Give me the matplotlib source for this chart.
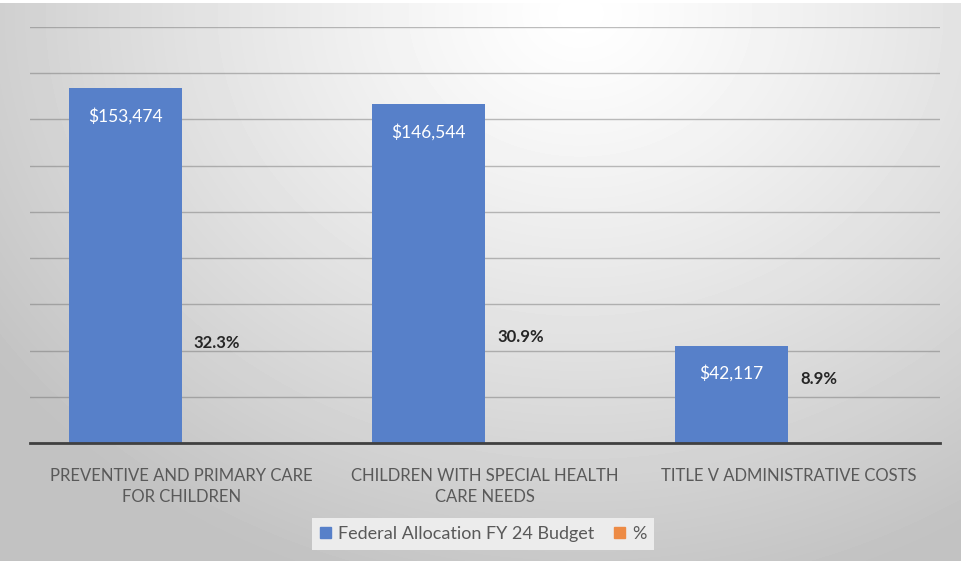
import numpy as np
import matplotlib.pyplot as plt
from matplotlib.patches import Patch

plt.rcParams['font.family'] = ['Lato', 'DejaVu Sans']

categories = ['PREVENTIVE AND PRIMARY CARE\nFOR CHILDREN',
              'CHILDREN WITH SPECIAL HEALTH\nCARE NEEDS',
              'TITLE V ADMINISTRATIVE COSTS']
budget = [153474, 146544, 42117]
pct = [32.3, 30.9, 8.9]
# heights where the % labels sit on the value axis
pct_label_y = [43300, 45900, 27700]

blue = '#5780c9'
orange = '#ed8b45'
grey_text = '#595959'

fig = plt.figure(figsize=(9.61, 5.61), dpi=100)

# radial grey background, lightest near the top middle
bg = fig.add_axes([0, 0, 1, 1 - 3 / 561], zorder=-1)
h, w = 558, 961
yy, xx = np.mgrid[0:h, 0:w]
r = np.sqrt(((xx - 580) / 720.0) ** 2 + ((yy - 10) / 600.0) ** 2)
shade = 1.0 - 0.24 * np.clip(r, 0, 1) ** 1.2
bg.imshow(shade, cmap='gray', vmin=0, vmax=1, aspect='auto',
          extent=[0, 1, 0, 1], interpolation='bilinear')
bg.axis('off')

ax = fig.add_axes([30 / 961, 118 / 561, 910 / 961, 416 / 561])
ax.patch.set_alpha(0)

x = np.arange(len(categories))
width = 0.373
bars = ax.bar(x - width / 2, budget, width, color=blue, zorder=3)
ax.bar(x + width / 2, pct, width, color=orange, zorder=3)

for b, v in zip(bars, budget):
    ax.annotate('${:,}'.format(v), (b.get_x() + b.get_width() / 2, v),
                xytext=(0, -28), textcoords='offset pixels',
                ha='center', va='center', color='white', fontsize=12.5)

for xi, p, yl in zip(x, pct, pct_label_y):
    ax.text(xi + 0.04, yl, '{:.1f}%'.format(p), ha='left', va='center',
            color='#262626', fontsize=12, fontweight='bold', zorder=4)

ax.set_xlim(-0.5, 2.5)
ax.set_ylim(0, 180000)
ax.set_yticks(range(0, 180001, 20000))
ax.yaxis.grid(True, color='#6e6e6e', alpha=0.45, linewidth=1, zorder=0)
ax.tick_params(axis='y', left=False, labelleft=False)
ax.tick_params(axis='x', length=0, pad=18)
ax.set_xticks(x)
ax.set_xticklabels(categories, color=grey_text, fontsize=12, linespacing=1.35)
for s in ['top', 'right', 'left']:
    ax.spines[s].set_visible(False)
ax.spines['bottom'].set_color('#404040')
ax.spines['bottom'].set_linewidth(2)
ax.spines['bottom'].set_zorder(5)

handles = [Patch(color=blue, label='Federal Allocation FY 24 Budget'),
           Patch(color=orange, label='%')]
leg = fig.legend(handles=handles, loc='center', ncol=2,
                 bbox_to_anchor=(483 / 961, 1 - 534 / 561),
                 fontsize=13, frameon=True, fancybox=False,
                 handlelength=0.6, handleheight=0.6, handletextpad=0.4,
                 columnspacing=1.1, borderpad=0.45)
leg.get_frame().set_facecolor('#ececec')
leg.get_frame().set_edgecolor('none')
leg.get_frame().set_alpha(1)
for t in leg.get_texts():
    t.set_color(grey_text)

fig.savefig('out.png', dpi=100, facecolor='white')
